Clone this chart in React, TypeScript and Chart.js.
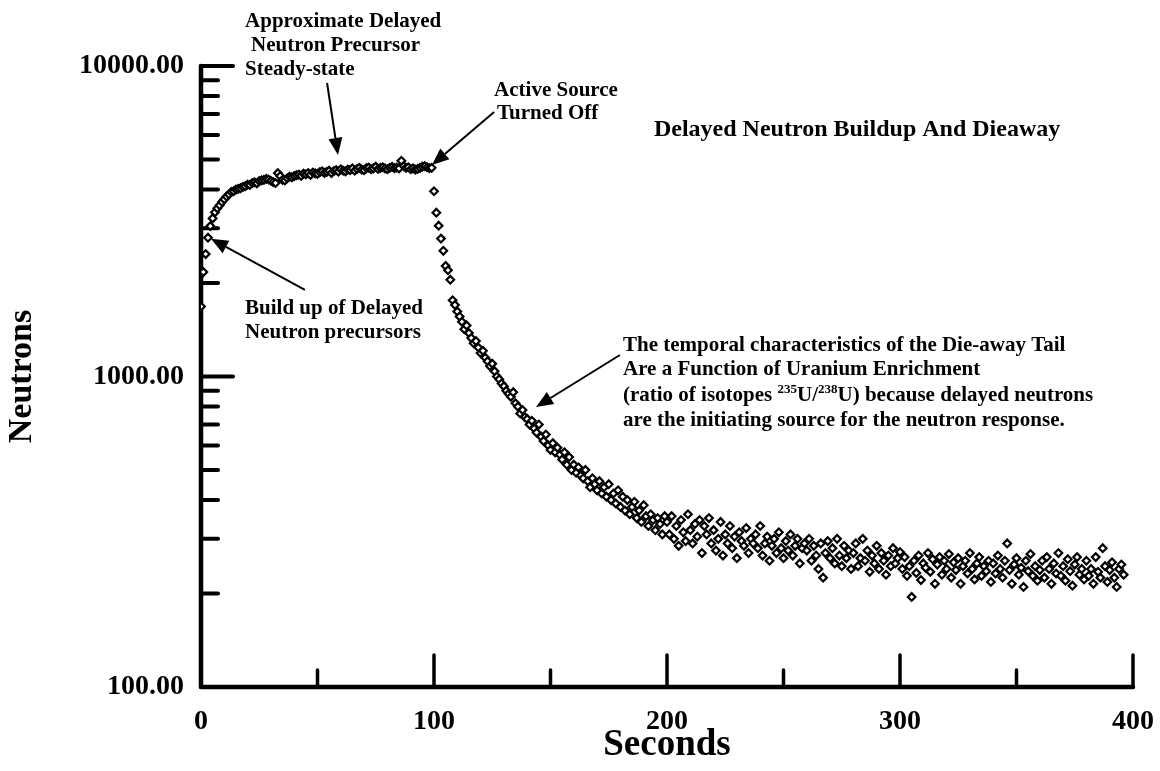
import React, { useEffect, useRef } from 'react';
import { Chart, registerables } from 'chart.js';

Chart.register(...registerables);

// ---- Data (neutron counts, one sample per second) ----
const buildupStart = 0;
const buildupCounts = [
  1680, 2170, 2480, 2800, 3050, 3230, 3380, 3480, 3560, 3650,
  3720, 3800, 3860, 3930, 3950, 4000, 4020, 4040, 4080, 4100,
  4150, 4140, 4200, 4220, 4190, 4260, 4280, 4300, 4330, 4310,
  4270, 4230, 4200, 4520, 4420, 4300, 4280, 4350, 4400, 4380,
  4420, 4450, 4470, 4430, 4500, 4480, 4520, 4460, 4540, 4510,
  4490, 4550, 4580, 4530, 4560, 4600, 4520, 4590, 4620, 4570,
  4650, 4600, 4580, 4640, 4620, 4680, 4600, 4660, 4700, 4640,
  4620, 4690, 4710, 4650, 4680, 4740, 4660, 4700, 4720, 4680,
  4650, 4700, 4730, 4690, 4710, 4680, 4950, 4760, 4700, 4720,
  4650, 4680, 4640, 4660, 4700, 4740, 4760, 4720, 4690, 4700,
];
const decayStart = 100;
const decayCounts = [
  3950, 3370, 3060, 2780, 2540, 2270, 2200, 2050, 1760, 1700,
  1620, 1560, 1500, 1420, 1460, 1380, 1330, 1280, 1300, 1240,
  1190, 1210, 1150, 1120, 1080, 1100, 1040, 1000, 980, 950,
  930, 900, 880, 860, 890, 820, 800, 760, 780, 740,
  730, 700, 720, 680, 660, 700, 640, 620, 650, 600,
  580, 610, 570, 590, 560, 540, 570, 520, 550, 500,
  520, 490, 510, 480, 470, 500, 460, 440, 470, 450,
  430, 460, 420, 440, 410, 450, 400, 420, 390, 430,
  380, 410, 370, 400, 360, 380, 395, 350, 370, 340,
  385, 355, 330, 360, 345, 320, 350, 335, 310, 355,
];
const tailStart = 200;
const tailCounts = [
  340, 310, 355, 300, 330, 285, 345, 315, 295, 360, 320, 290, 335, 305, 345, 270, 330, 310, 350, 290,
  320, 275, 300, 340, 265, 310, 290, 330, 280, 305, 260, 315, 295, 285, 325, 270, 300, 290, 310, 280,
  330, 265, 290, 305, 255, 285, 300, 270, 315, 280, 260, 295, 275, 310, 265, 285, 300, 250, 280, 290,
  275, 300, 255, 285, 265, 240, 290, 225, 270, 295, 260, 280, 250, 300, 265, 245, 285, 260, 275, 240,
  270, 290, 245, 260, 300, 255, 275, 235, 265, 250, 285, 240, 270, 255, 230, 265, 245, 280, 250, 260,
  272, 240, 262, 228, 245, 195, 255, 233, 265, 221, 250, 242, 270, 235, 258, 215, 248, 262, 230, 255,
  240, 268, 225, 252, 238, 260, 215, 245, 255, 232, 270, 240, 222, 250, 262, 228, 245, 236, 255, 218,
  250, 232, 265, 240, 225, 255, 290, 238, 215, 248, 260, 230, 242, 210, 255, 236, 268, 228, 245, 220,
  238, 255, 225, 262, 240, 215, 250, 232, 270, 228, 245, 220, 258, 236, 212, 248, 262, 230, 240, 222,
  255, 228, 240, 215, 262, 235, 225, 280, 245, 218, 238, 252, 225, 210, 240, 248, 230,
];

// ---- Axis ticks ----
const xMajorTicks = [0, 100, 200, 300, 400];
const xMinorTicks = [50, 150, 250, 350];
const yMajorTicks = [100, 1000, 10000];
const yMinorTicks = [200, 300, 400, 500, 600, 700, 800, 900, 2000, 3000, 4000, 5000, 6000, 7000, 8000, 9000];

// ---- Annotations (data coordinates: seconds, neutrons) ----
const textNotes = [
  { text: 'Approximate Delayed', x: 18.9, y: 13350, size: 21 },
  { text: 'Neutron Precursor', x: 21.5, y: 11180, size: 21 },
  { text: 'Steady-state', x: 18.9, y: 9350, size: 21 },
  { text: 'Active Source', x: 125.8, y: 8000, size: 21 },
  { text: 'Turned Off', x: 127.0, y: 6750, size: 21 },
  { text: 'Delayed Neutron Buildup And Dieaway', x: 194.4, y: 5950, size: 24 },
  { text: 'Build up of Delayed', x: 18.9, y: 1588, size: 21 },
  { text: 'Neutron precursors', x: 18.9, y: 1330, size: 21 },
  { text: 'The temporal characteristics of the Die-away Tail', x: 181.1, y: 1208, size: 21 },
  { text: 'Are a Function of Uranium Enrichment', x: 181.1, y: 1011, size: 21 },
  { text: 'are the initiating source for the neutron response.', x: 181.1, y: 693, size: 21 },
];
const ratioLine = {
  parts: [
    { t: '(ratio of isotopes ', sup: false },
    { t: '235', sup: true },
    { t: 'U/', sup: false },
    { t: '238', sup: true },
    { t: 'U) because delayed neutrons', sup: false },
  ],
  x: 181.1,
  y: 834,
};
const arrows = [
  { x1: 54.1, y1: 8815, x2: 58.8, y2: 5170 },
  { x1: 125.8, y1: 7110, x2: 99.1, y2: 4800 },
  { x1: 44.6, y1: 1900, x2: 4.3, y2: 2775 },
  { x1: 179.8, y1: 1173, x2: 143.8, y2: 798 },
];

const FONT = '"Times New Roman", "Liberation Serif", "DejaVu Serif", serif';

function buildPoints() {
  const pts: { x: number; y: number }[] = [];
  buildupCounts.forEach((v, i) => pts.push({ x: buildupStart + i, y: v }));
  decayCounts.forEach((v, i) => pts.push({ x: decayStart + i, y: v }));
  tailCounts.forEach((v, i) => pts.push({ x: tailStart + i, y: v }));
  return pts;
}

const axesPlugin = {
  id: 'customAxes',
  beforeDatasetsDraw(chart: any) {
    const { ctx } = chart;
    const xs = chart.scales.x;
    const ys = chart.scales.y;
    const x0 = xs.getPixelForValue(0);
    const x1 = xs.getPixelForValue(400);
    const yTop = ys.getPixelForValue(10000);
    const yBot = ys.getPixelForValue(100);
    ctx.save();
    ctx.strokeStyle = '#000';
    ctx.lineCap = 'round';
    ctx.lineJoin = 'round';
    ctx.lineWidth = 4.5;
    ctx.beginPath();
    ctx.moveTo(x0, yTop);
    ctx.lineTo(x0, yBot);
    ctx.lineTo(x1, yBot);
    ctx.stroke();
    ctx.lineWidth = 4;
    yMajorTicks.forEach((v) => {
      const p = ys.getPixelForValue(v);
      ctx.beginPath();
      ctx.moveTo(x0, p);
      ctx.lineTo(x0 + 32, p);
      ctx.stroke();
    });
    yMinorTicks.forEach((v) => {
      const p = ys.getPixelForValue(v);
      ctx.beginPath();
      ctx.moveTo(x0, p);
      ctx.lineTo(x0 + 17, p);
      ctx.stroke();
    });
    ctx.lineWidth = 3.5;
    xMajorTicks.forEach((v) => {
      const p = xs.getPixelForValue(v);
      ctx.beginPath();
      ctx.moveTo(p, yBot);
      ctx.lineTo(p, yBot - 32);
      ctx.stroke();
    });
    xMinorTicks.forEach((v) => {
      const p = xs.getPixelForValue(v);
      ctx.beginPath();
      ctx.moveTo(p, yBot);
      ctx.lineTo(p, yBot - 17);
      ctx.stroke();
    });
    ctx.restore();
  },
};

const notesPlugin = {
  id: 'notes',
  afterDraw(chart: any) {
    const { ctx } = chart;
    const xs = chart.scales.x;
    const ys = chart.scales.y;
    const px = (v: number) => xs.getPixelForValue(v);
    const py = (v: number) => ys.getPixelForValue(v);
    ctx.save();
    ctx.fillStyle = '#000';
    ctx.strokeStyle = '#000';
    ctx.textAlign = 'left';
    ctx.textBaseline = 'alphabetic';
    textNotes.forEach((n) => {
      ctx.font = `bold ${n.size}px ${FONT}`;
      ctx.fillText(n.text, px(n.x), py(n.y));
    });
    // ratio line with superscripts
    let cx = px(ratioLine.x);
    const by = py(ratioLine.y);
    ratioLine.parts.forEach((p) => {
      if (p.sup) {
        ctx.font = `bold 13px ${FONT}`;
        ctx.fillText(p.t, cx, by - 8);
      } else {
        ctx.font = `bold 21px ${FONT}`;
        ctx.fillText(p.t, cx, by);
      }
      cx += ctx.measureText(p.t).width;
    });
    // arrows
    arrows.forEach((a) => {
      const sx = px(a.x1), sy = py(a.y1), tx = px(a.x2), ty = py(a.y2);
      const ang = Math.atan2(ty - sy, tx - sx);
      const headLen = 17, headHalf = 7;
      const bx = tx - headLen * Math.cos(ang);
      const byy = ty - headLen * Math.sin(ang);
      ctx.lineWidth = 2;
      ctx.beginPath();
      ctx.moveTo(sx, sy);
      ctx.lineTo(bx, byy);
      ctx.stroke();
      ctx.beginPath();
      ctx.moveTo(tx, ty);
      ctx.lineTo(bx + headHalf * Math.sin(ang), byy - headHalf * Math.cos(ang));
      ctx.lineTo(bx - headHalf * Math.sin(ang), byy + headHalf * Math.cos(ang));
      ctx.closePath();
      ctx.fill();
    });
    ctx.restore();
  },
};

export default function App() {
  const canvasRef = useRef<HTMLCanvasElement | null>(null);

  useEffect(() => {
    const canvas = canvasRef.current;
    if (!canvas) return;
    const tickFont = { family: FONT, size: 28, weight: 'bold' as const };
    const chart = new Chart(canvas, {
      type: 'scatter',
      data: {
        datasets: [
          {
            data: buildPoints(),
            pointStyle: 'rectRot',
            pointRadius: 3.8,
            pointBorderWidth: 2.2,
            borderColor: '#000',
            backgroundColor: '#fff',
            showLine: false,
          } as any,
        ],
      },
      options: {
        responsive: false,
        animation: false,
        devicePixelRatio: 1,
        layout: { padding: { top: 66, right: 27, left: 0, bottom: 0 } },
        plugins: {
          legend: { display: false },
          tooltip: { enabled: false },
        },
        scales: {
          x: {
            type: 'linear',
            position: 'bottom',
            min: 0,
            max: 400,
            afterBuildTicks: (s: any) => {
              s.ticks = xMajorTicks.map((v) => ({ value: v }));
            },
            afterFit: (s: any) => {
              s.height = 84;
              s.paddingLeft = 0;
              s.paddingRight = 0;
            },
            ticks: {
              color: '#000',
              font: tickFont,
              padding: 18,
              maxRotation: 0,
              autoSkip: false,
              callback: (v: any) => String(v),
            },
            grid: { display: false, drawTicks: false },
            border: { display: false },
            title: {
              display: true,
              text: 'Seconds',
              color: '#000',
              font: { family: FONT, size: 37, weight: 'bold' },
              padding: { top: 0, bottom: 3 },
            },
          },
          y: {
            type: 'logarithmic',
            position: 'left',
            min: 100,
            max: 10000,
            afterBuildTicks: (s: any) => {
              s.ticks = yMajorTicks.map((v) => ({ value: v }));
            },
            afterFit: (s: any) => {
              s.width = 201;
              s.paddingTop = 0;
              s.paddingBottom = 0;
            },
            ticks: {
              color: '#000',
              font: tickFont,
              padding: 17,
              autoSkip: false,
              callback: (v: any) => Number(v).toFixed(2),
            },
            grid: { display: false, drawTicks: false },
            border: { display: false },
            title: {
              display: true,
              text: 'Neutrons',
              color: '#000',
              font: { family: FONT, size: 34, weight: 'bold' },
              padding: { top: 2, bottom: 0 },
            },
          },
        },
      } as any,
      plugins: [axesPlugin, notesPlugin],
    });
    return () => chart.destroy();
  }, []);

  return (
    <div style={{ position: 'fixed', left: 0, top: 0, width: 1160, height: 771, background: '#fff' }}>
      <canvas ref={canvasRef} width={1160} height={771} style={{ width: 1160, height: 771, display: 'block' }} />
    </div>
  );
}
